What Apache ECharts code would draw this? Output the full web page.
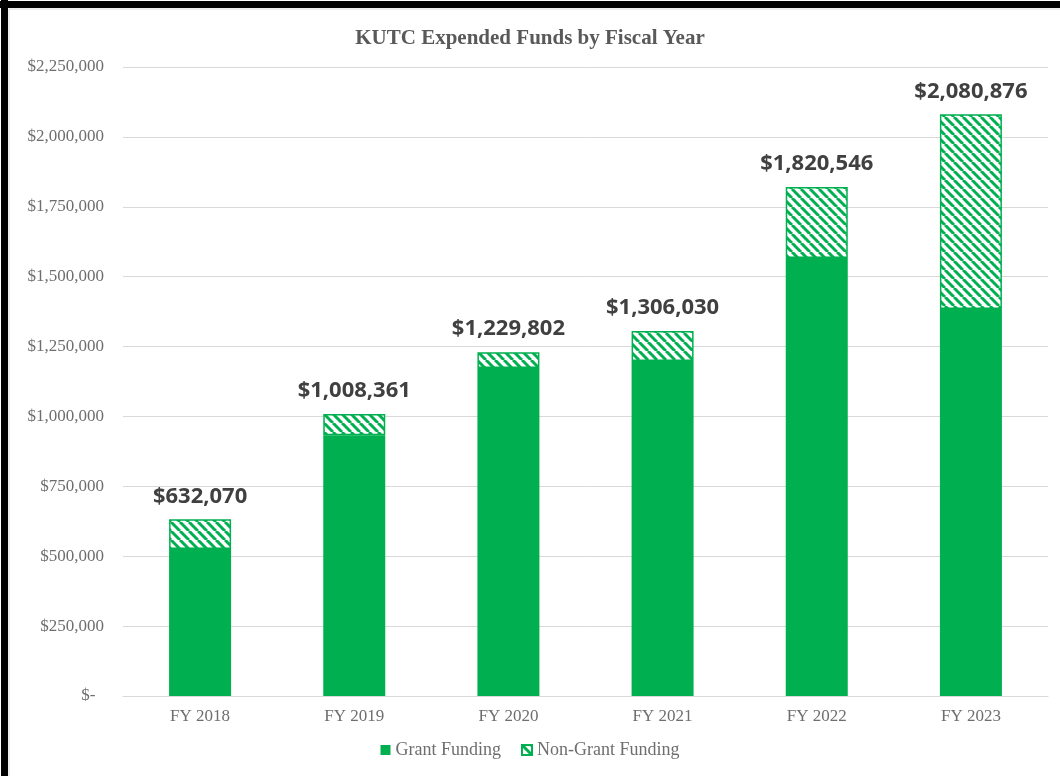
<!DOCTYPE html>
<html>
<head>
<meta charset="utf-8">
<script src="https://cdn.jsdelivr.net/npm/echarts@6/dist/echarts.min.js"></script>
<style>
  html, body { margin: 0; padding: 0; background: #fff; }
  #chart { width: 1060px; height: 776px; }
</style>
</head>
<body>
<div id="chart"></div>
<script>
// data
var years = ['FY 2018', 'FY 2019', 'FY 2020', 'FY 2021', 'FY 2022', 'FY 2023'];
var grantFunding = [526000, 933000, 1173000, 1198000, 1567000, 1384000];
var nonGrantFunding = [106070, 75361, 56802, 108030, 253546, 696876];
var totals = [632070, 1008361, 1229802, 1306030, 1820546, 2080876];
var yTicks = [0, 250000, 500000, 750000, 1000000, 1250000, 1500000, 1750000, 2000000, 2250000];

var green = '#00B050';

// diagonal hatch for the non-grant part
function hatch() {
  var c = document.createElement('canvas');
  var s = 9;
  c.width = s; c.height = s;
  var ctx = c.getContext('2d');
  ctx.fillStyle = '#fff';
  ctx.fillRect(0, 0, s, s);
  ctx.strokeStyle = green;
  ctx.lineWidth = 3;
  [-s, 0, s].forEach(function (k) {
    ctx.beginPath();
    ctx.moveTo(k, 0);
    ctx.lineTo(k + s, s);
    ctx.stroke();
  });
  return c;
}

function money(v) {
  if (v === 0) return '$-  ';
  return '$' + v.toString().replace(/\B(?=(\d{3})+(?!\d))/g, ',');
}

var myChart = echarts.init(document.getElementById('chart'));
var option = {
  backgroundColor: '#fff',
  animation: false,
  graphic: [
    { type: 'rect', shape: { x: 0, y: 1, width: 1060, height: 7 }, style: { fill: '#000' } },
    { type: 'rect', shape: { x: 1, y: 0, width: 7, height: 776 }, style: { fill: '#000' } },
    { type: 'line', shape: { x1: 9, y1: 9, x2: 1060, y2: 9 }, style: { stroke: '#d9d9d9', lineWidth: 1 } },
    { type: 'line', shape: { x1: 9, y1: 9, x2: 9, y2: 776 }, style: { stroke: '#d9d9d9', lineWidth: 1 } }
  ],
  title: {
    text: 'KUTC Expended Funds by Fiscal Year',
    left: 'center',
    top: 23,
    textStyle: {
      fontFamily: 'Liberation Serif',
      fontWeight: 'bold',
      fontSize: 21,
      color: '#595959'
    }
  },
  legend: {
    bottom: 12,
    left: 'center',
    itemWidth: 10,
    itemHeight: 10,
    itemGap: 20,
    icon: 'rect',
    textStyle: {
      fontFamily: 'Liberation Serif',
      fontSize: 18,
      color: '#6e6e6e'
    },
    data: ['Grant Funding', 'Non-Grant Funding']
  },
  grid: {
    left: 123,
    right: 12,
    top: 67,
    bottom: 80
  },
  xAxis: {
    type: 'category',
    data: years,
    axisLine: { lineStyle: { color: '#d9d9d9' } },
    axisTick: { show: false },
    axisLabel: {
      margin: 12,
      fontFamily: 'Liberation Serif',
      fontSize: 17,
      color: '#6e6e6e'
    }
  },
  yAxis: {
    type: 'value',
    min: 0,
    max: yTicks[yTicks.length - 1],
    interval: 250000,
    axisLine: { show: false },
    axisTick: { show: false },
    splitLine: { lineStyle: { color: '#d9d9d9' } },
    axisLabel: {
      margin: 19,
      fontFamily: 'Liberation Serif',
      fontSize: 17,
      color: '#6e6e6e',
      formatter: money
    }
  },
  series: [
    {
      name: 'Grant Funding',
      type: 'bar',
      stack: 'total',
      barWidth: 62,
      data: grantFunding,
      itemStyle: { color: green }
    },
    {
      name: 'Non-Grant Funding',
      type: 'bar',
      stack: 'total',
      barWidth: 62,
      data: nonGrantFunding,
      itemStyle: {
        color: { image: hatch(), repeat: 'repeat' },
        borderColor: green,
        borderWidth: 1.5
      },
      label: {
        show: true,
        position: 'top',
        distance: 12,
        fontFamily: 'Noto Sans',
        fontWeight: 'bold',
        fontSize: 22,
        color: '#404040',
        formatter: function (p) { return money(totals[p.dataIndex]); }
      }
    }
  ]
};
myChart.setOption(option);
</script>
</body>
</html>
